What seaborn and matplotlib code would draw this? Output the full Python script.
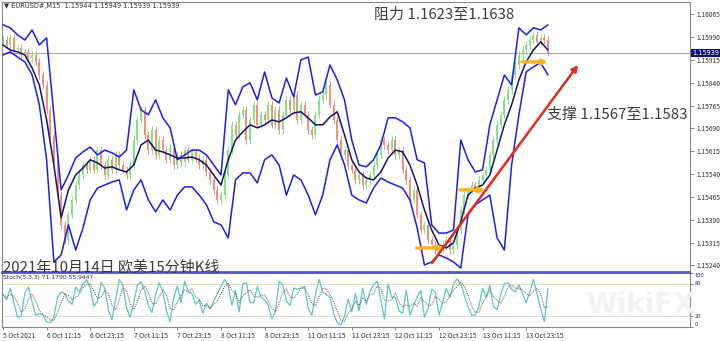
import numpy as np
import pandas as pd
import matplotlib
matplotlib.use("Agg")
import matplotlib.pyplot as plt
import seaborn as sns

# ---------------- data ----------------
x_tick_labels = ["5 Oct 2021", "6 Oct 11:15", "6 Oct 23:15", "7 Oct 11:15", "7 Oct 23:15",
                 "8 Oct 11:15", "8 Oct 23:15", "11 Oct 11:15", "11 Oct 23:15", "12 Oct 11:15",
                 "12 Oct 23:15", "13 Oct 11:15", "13 Oct 23:15"]
price_ticks = [1.15240, 1.15315, 1.15390, 1.15465, 1.15540, 1.15615, 1.15690,
               1.15765, 1.15840, 1.15915, 1.15990, 1.16065]
last_price = 1.15939

# hourly closes
closes = [1.15981, 1.15965, 1.15988, 1.15948, 1.15955, 1.15932, 1.15942, 1.15922, 1.15932, 1.15909, 1.15866, 1.15833,
          1.15751, 1.15669, 1.15587, 1.15471, 1.15373, 1.15323, 1.15406, 1.15455, 1.15504, 1.15537, 1.15570, 1.15554,
          1.15587, 1.15554, 1.15619, 1.15570, 1.15537, 1.15587, 1.15554, 1.15603, 1.15570, 1.15554, 1.15537, 1.15570,
          1.15652, 1.15718, 1.15751, 1.15669, 1.15619, 1.15685, 1.15603, 1.15652, 1.15619, 1.15587, 1.15626, 1.15570,
          1.15603, 1.15580, 1.15619, 1.15587, 1.15613, 1.15593, 1.15570, 1.15587, 1.15547, 1.15521, 1.15488, 1.15455,
          1.15471, 1.15537, 1.15619, 1.15702, 1.15669, 1.15735, 1.15751, 1.15652, 1.15718, 1.15768, 1.15702, 1.15735,
          1.15718, 1.15768, 1.15702, 1.15751, 1.15685, 1.15735, 1.15784, 1.15751, 1.15800, 1.15718, 1.15768, 1.15735,
          1.15685, 1.15669, 1.15735, 1.15784, 1.15800, 1.15833, 1.15768, 1.15718, 1.15652, 1.15603, 1.15619, 1.15570,
          1.15554, 1.15521, 1.15537, 1.15504, 1.15521, 1.15537, 1.15570, 1.15603, 1.15652, 1.15636, 1.15619, 1.15652,
          1.15603, 1.15619, 1.15554, 1.15521, 1.15455, 1.15488, 1.15406, 1.15356, 1.15373, 1.15323, 1.15307, 1.15290,
          1.15297, 1.15307, 1.15323, 1.15290, 1.15307, 1.15356, 1.15422, 1.15471, 1.15488, 1.15504, 1.15494, 1.15521,
          1.15537, 1.15554, 1.15603, 1.15652, 1.15702, 1.15735, 1.15784, 1.15817, 1.15866, 1.15899, 1.15932, 1.15948,
          1.15965, 1.15981, 1.15998, 1.15975, 1.15988, 1.15981, 1.15939]

# band lines, one value every two hours
band_mid = [1.15965, 1.15948, 1.15942, 1.15932, 1.15889, 1.15833, 1.15718, 1.15570, 1.15396, 1.15488,
            1.15537, 1.15560, 1.15587, 1.15577, 1.15560, 1.15564, 1.15554, 1.15547, 1.15570, 1.15636,
            1.15652, 1.15619, 1.15613, 1.15603, 1.15593, 1.15593, 1.15596, 1.15587, 1.15570, 1.15537,
            1.15504, 1.15587, 1.15652, 1.15679, 1.15702, 1.15692, 1.15702, 1.15718, 1.15712, 1.15725,
            1.15741, 1.15745, 1.15725, 1.15702, 1.15702, 1.15728, 1.15745, 1.15669, 1.15587, 1.15547,
            1.15527, 1.15521, 1.15547, 1.15593, 1.15619, 1.15613, 1.15570, 1.15504, 1.15422, 1.15356,
            1.15307, 1.15297, 1.15314, 1.15383, 1.15471, 1.15494, 1.15504, 1.15537, 1.15619, 1.15702,
            1.15768, 1.15850, 1.15909, 1.15948, 1.15975, 1.15948]
band_upper = [1.16031, 1.16021, 1.15998, 1.15981, 1.16014, 1.15965, 1.15988, 1.15735, 1.15488, 1.15537,
              1.15593, 1.15613, 1.15629, 1.15603, 1.15619, 1.15610, 1.15596, 1.15619, 1.15817, 1.15751,
              1.15735, 1.15784, 1.15725, 1.15692, 1.15587, 1.15603, 1.15619, 1.15619, 1.15603, 1.15570,
              1.15537, 1.15817, 1.15768, 1.15827, 1.15840, 1.15784, 1.15876, 1.15791, 1.15774, 1.15856,
              1.15794, 1.15916, 1.15925, 1.15800, 1.15810, 1.15899, 1.15850, 1.15784, 1.15652, 1.15570,
              1.15564, 1.15587, 1.15636, 1.15725, 1.15725, 1.15712, 1.15692, 1.15587, 1.15577, 1.15373,
              1.15346, 1.15346, 1.15356, 1.15652, 1.15587, 1.15547, 1.15554, 1.15702, 1.15784, 1.15866,
              1.15833, 1.16021, 1.15998, 1.16021, 1.16014, 1.16031]
band_lower = [1.15932, 1.15942, 1.15925, 1.15909, 1.15866, 1.15768, 1.15587, 1.15251, 1.15274, 1.15373,
              1.15290, 1.15363, 1.15455, 1.15494, 1.15504, 1.15514, 1.15521, 1.15422, 1.15488, 1.15521,
              1.15455, 1.15416, 1.15455, 1.15422, 1.15471, 1.15498, 1.15498, 1.15471, 1.15439, 1.15383,
              1.15373, 1.15330, 1.15521, 1.15544, 1.15544, 1.15511, 1.15587, 1.15603, 1.15570, 1.15471,
              1.15537, 1.15521, 1.15471, 1.15406, 1.15471, 1.15587, 1.15636, 1.15570, 1.15471, 1.15455,
              1.15445, 1.15494, 1.15527, 1.15514, 1.15504, 1.15494, 1.15455, 1.15363, 1.15241, 1.15251,
              1.15274, 1.15264, 1.15251, 1.15231, 1.15406, 1.15439, 1.15455, 1.15471, 1.15330, 1.15290,
              1.15570, 1.15735, 1.15876, 1.15893, 1.15906, 1.15866]

# stochastic %K, hourly
stoch_k = [60, 50, 72, 45, 18, 20, 62, 74, 46, 22, 25, 22, 10, 8, 18, 55, 65, 62, 48, 42,
           74, 65, 80, 88, 72, 38, 48, 82, 72, 32, 14, 50, 88, 78, 35, 18, 45, 78, 84, 66,
           40, 27, 60, 82, 65, 30, 9, 55, 76, 45, 85, 65,
           62, 42, 50, 25, 44, 34, 48, 62, 75, 88, 77, 40, 68, 28, 80, 82, 45, 45, 75, 55,
           50, 40, 15, 30, 85, 78, 48, 40, 72, 70, 72, 75, 35, 22, 60, 88, 65, 60, 55, 25,
           8, 4, 20, 52, 28, 62, 30, 72, 42, 65,
           78, 85, 50, 15, 80, 55, 55, 30, 25, 68, 22, 40, 55, 68, 18, 34, 70, 65, 22, 45,
           72, 55, 80, 89, 80, 58, 38, 22, 22, 38, 72, 55, 77, 38, 32, 60, 80, 82, 70, 65,
           78, 62, 45, 65, 88, 62, 34, 10, 71]

# annotation anchors (hour index, price)
support_arrow = [(118.1, 1.15248), (158.3, 1.15899)]
level_arrows = [((113.9, 1.15297), (121.7, 1.15297)),
                ((125.8, 1.15488), (132.7, 1.15488)),
                ((142.9, 1.15909), (150.0, 1.15909))]

# ---------------- styling ----------------
sns.set_theme(style="white")
plt.rcParams["font.family"] = ["Noto Sans CJK SC", "DejaVu Sans"]

W, H = 720, 341
fig = plt.figure(figsize=(7.2, 3.41), dpi=100)
fig.patch.set_facecolor("white")
ax = fig.add_axes([2 / W, (H - 272) / H, 688 / W, 270 / H])
ax2 = fig.add_axes([2 / W, (H - 327) / H, 688 / W, 54 / H])

xmin, xmax = -0.28, 189.1
ymin, ymax = 1.15218, 1.16106

# candles (open = previous close)
c = np.array(closes)
o = np.r_[c[0], c[:-1]]
hrs = np.arange(len(c))
up = c >= o
wick = 0.00012
hi = np.maximum(o, c) + wick
lo = np.minimum(o, c) - wick
up_col, dn_col = "#86e386", "#f3917f"
ax.vlines(hrs[up], lo[up], hi[up], color=up_col, lw=0.7, zorder=2)
ax.vlines(hrs[~up], lo[~up], hi[~up], color=dn_col, lw=0.7, zorder=2)
ax.vlines(hrs[up], o[up], c[up], color=up_col, lw=1.5, zorder=2)
ax.vlines(hrs[~up], o[~up], c[~up], color=dn_col, lw=1.5, zorder=2)

# bands
bands = pd.DataFrame({"hour": np.arange(len(band_mid)) * 2,
                      "upper": band_upper, "mid": band_mid, "lower": band_lower})
sns.lineplot(data=bands, x="hour", y="upper", ax=ax, color="#1d1df2", lw=1.1, zorder=3)
sns.lineplot(data=bands, x="hour", y="lower", ax=ax, color="#1d1df2", lw=1.1, zorder=3)
sns.lineplot(data=bands, x="hour", y="mid", ax=ax, color="#14146e", lw=1.1, zorder=3)

# current price line
ax.axhline(last_price, color="#a8a8a8", lw=0.8, zorder=1)

# orange level arrows
for (x0, y0), (x1, y1) in level_arrows:
    ax.annotate("", xy=(x1, y1), xytext=(x0, y0),
                arrowprops=dict(arrowstyle="-|>", color="#ffb21a", lw=2.4,
                                mutation_scale=7, shrinkA=0, shrinkB=0), zorder=5)
# red support arrow
ax.annotate("", xy=support_arrow[1], xytext=support_arrow[0],
            arrowprops=dict(arrowstyle="-|>", color="#e42a1c", lw=1.8,
                            mutation_scale=9, shrinkA=0, shrinkB=0), zorder=6)

ax.set_xlim(xmin, xmax)
ax.set_ylim(ymin, ymax)
ax.set_xlabel("")
ax.set_ylabel("")
ax.set_xticks([])
ax.yaxis.tick_right()
ax.set_yticks(price_ticks)
ax.set_yticklabels([f"{v:.5f}" for v in price_ticks])
ax.tick_params(axis="y", right=True, length=3, width=0.6, color="#707070",
               labelsize=4.8, labelcolor="#303030", pad=1.5)
for s in ["top", "left", "right"]:
    ax.spines[s].set_color("#8a8a8a")
    ax.spines[s].set_linewidth(0.8)
ax.spines["bottom"].set_color("#4a4ac8")
ax.spines["bottom"].set_linewidth(1.2)

ytr = ax.get_yaxis_transform()
ax.text(1.003, last_price, f"{last_price:.5f}", transform=ytr, ha="left", va="center",
        fontsize=4.8, color="white", family="DejaVu Sans",
        bbox=dict(boxstyle="square,pad=0.15", fc="#0c0c84", ec="none"), zorder=10, clip_on=False)

# ---------------- stochastic panel ----------------
st = pd.DataFrame({"hour": np.arange(len(stoch_k)), "k": stoch_k})
st["d"] = st["k"].rolling(3, min_periods=1).mean()
ax2.axhline(80, color="#e9dfa6", lw=0.7, zorder=1)
ax2.axhline(20, color="#dcdcdc", lw=0.7, zorder=1)
sns.lineplot(data=st, x="hour", y="k", ax=ax2, color="#5cc8c0", lw=0.9, zorder=2)
sns.lineplot(data=st, x="hour", y="d", ax=ax2, color="#7a6a6a", lw=0.8, ls=(0, (1, 1)), zorder=3)
ax2.set_xlim(xmin, xmax)
ax2.set_ylim(0, 100)
ax2.set_xlabel("")
ax2.set_ylabel("")
ax2.yaxis.tick_right()
ax2.set_yticks([0, 20, 80, 100])
ax2.set_yticklabels(["0", "20", "80", "100"])
ax2.tick_params(axis="y", right=True, length=2, width=0.6, color="#707070",
                labelsize=4.2, labelcolor="#2a2a70", pad=1.5)
for lab, va in zip(ax2.get_yticklabels(), ["bottom", "center", "center", "top"]):
    lab.set_verticalalignment(va)
ax2.set_xticks(np.arange(len(x_tick_labels)) * 12)
ax2.set_xticklabels(x_tick_labels, ha="left")
ax2.tick_params(axis="x", bottom=True, length=2, width=0.6, color="#707070",
                labelsize=4.8, labelcolor="#303030", pad=1.5)
for s in ["left", "right", "bottom"]:
    ax2.spines[s].set_color("#8a8a8a")
    ax2.spines[s].set_linewidth(0.8)
ax2.spines["top"].set_color("#4a4ac8")
ax2.spines["top"].set_linewidth(1.2)
ax2.text(0.002, 0.97, "Stoch(5,3,3) 71.1790 55.9447", transform=ax2.transAxes,
         ha="left", va="top", fontsize=4.3, color="#2a2a60", family="DejaVu Sans")

# watermark (very faint, as in the reference)
fig.text(640 / W, 1 - 305 / H, "WikiFX", fontsize=20, color="#f3f3f3", ha="center",
         va="center", family="DejaVu Sans", fontweight="bold", zorder=0)

# ---------------- texts ----------------
fig.text(4 / W, 1 - 6 / H, "\u25bc EURUSD#,M15  1.15944 1.15949 1.15939 1.15939",
         fontsize=4.8, color="#303030", ha="left", va="center", family=["DejaVu Sans"])
fig.text(374 / W, 1 - 15 / H, "阻力 1.1623至1.1638", fontsize=10.8, color="#3c3c3c",
         ha="left", va="center")
fig.text(547 / W, 1 - 114.5 / H, "支撑 1.1567至1.1583", fontsize=10.8, color="#3c3c3c",
         ha="left", va="center")
fig.text(3 / W, 1 - 266.5 / H, "2021年10月14日 欧美15分钟K线", fontsize=10.8, color="#3c3c3c",
         ha="left", va="center")

fig.savefig("out.png", dpi=100, facecolor="white")
